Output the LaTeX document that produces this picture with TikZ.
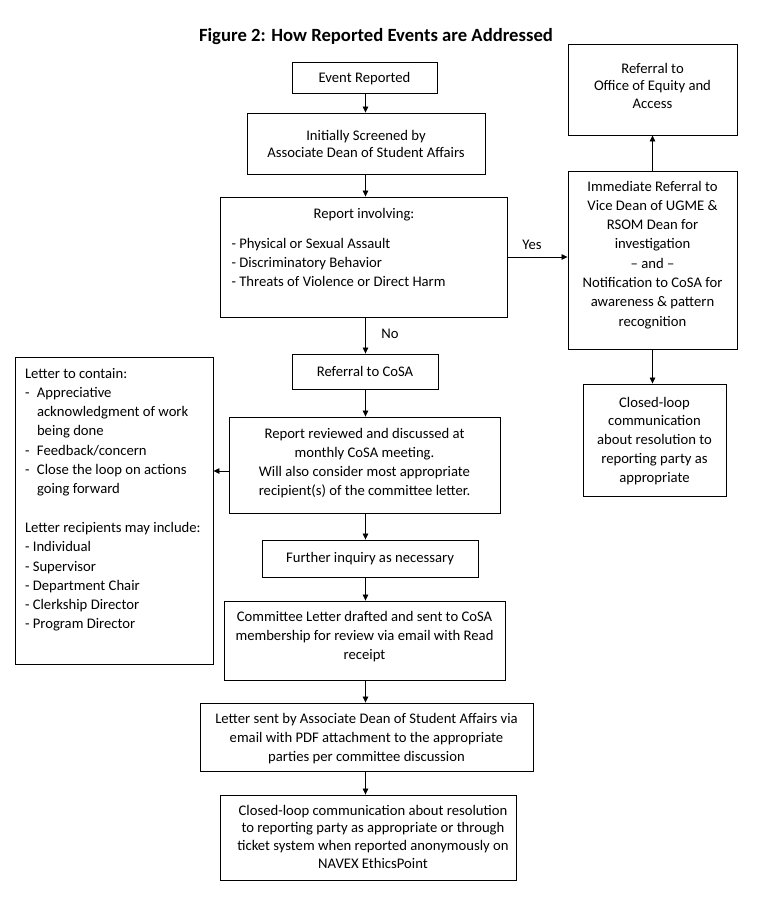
\documentclass[tikz,border=0pt]{standalone}
\usepackage{fontspec}
\setmainfont{Carlito}
\usetikzlibrary{arrows.meta}

% box text: width, height, first baseline, lines
\newcommand{\boxtext}[4]{\parbox[c][#2pt][t]{#1pt}{\centering\rule{0pt}{#3pt}#4}}
\newcommand{\litem}[1]{\hangindent=12pt\hangafter=1\makebox[12pt][l]{-}#1\par}

\tikzset{
    box/.style={draw,line width=0.9pt,inner sep=0pt},
    arr/.style={-{Triangle[length=6pt,width=5.5pt]},line width=0.7pt},
    lbl/.style={inner sep=0pt},
}

\begin{document}
\begin{tikzpicture}[x=1pt,y=-1pt,font=\fontsize{14.67}{19.3}\selectfont]
        \useasboundingbox (0,0) rectangle (764,906);
        %title
        \node[lbl,font=\fontsize{18.67}{22}\selectfont\bfseries] (title) at (376,37) {Figure 2: How Reported Events are Addressed};
        
        %main column
        \node[box] (event) at (364.5,77.5) {\boxtext{145}{31}{20}{Event Reported}};
        \node[box] (screen) at (366,143.5) {\boxtext{238}{61}{27}{\fontsize{14.67}{17.9}\selectfont Initially Screened by\\ Associate Dean of Student Affairs}};
        \node[box,inner xsep=11pt] (report) at (364,257) {\parbox[c][120pt][t]{265pt}{\centering\rule{0pt}{21pt}Report involving:\par
                \vspace{10.7pt}\raggedright - Physical or Sexual Assault\\ - Discriminatory Behavior\\ - Threats of Violence or Direct Harm}};
        \node[box] (cosa) at (365,371.5) {\boxtext{146}{35}{22}{Referral to CoSA}};
        \node[box] (review) at (364.5,465) {\boxtext{271}{96}{21}{\fontsize{14.67}{19}\selectfont Report reviewed and discussed at\\ monthly CoSA meeting.\\ Will also consider most appropriate\\ recipient(s) of the committee letter.}};
        \node[box] (inquiry) at (370,558.5) {\boxtext{216}{37}{22}{Further inquiry as necessary}};
        \node[box] (committee) at (364.5,640.5) {\boxtext{281}{79}{20}{Committee Letter drafted and sent to CoSA\\ membership for review via email with Read\\ receipt}};
        \node[box] (letter) at (366.5,737) {\boxtext{333}{68}{20}{\fontsize{14.67}{19}\selectfont Letter sent by Associate Dean of Student Affairs via\\ email with PDF attachment to the appropriate\\ parties per committee discussion}};
        \node[box] (closed) at (368,837.5) {\boxtext{296}{85}{20}{\fontsize{14.67}{17.8}\selectfont\leftskip=10pt plus 1fil Closed-loop communication about resolution\\ to reporting party as appropriate or through\\ ticket system when reported anonymously on\\ NAVEX EthicsPoint}};
        
        %letter box
        \node[box,inner xsep=10pt] (left) at (114,510.5) {\parbox[c][307pt][t]{178pt}{\raggedright\rule{0pt}{21pt}Letter to contain:\par
                \litem{Appreciative\newline acknowledgment of work\newline being done}
                \litem{Feedback/concern}
                \litem{Close the loop on actions\newline going forward}
                \vspace{19.3pt}
                Letter recipients may include:\\ - Individual\\ - Supervisor\\ - Department Chair\\ - Clerkship Director\\ - Program Director}};
        
        %right column
        \node[box] (office) at (652.5,89.5) {\boxtext{169}{91}{29}{\fontsize{14.67}{17.6}\selectfont Referral to\\ Office of Equity and\\ Access}};
        \node[box] (immediate) at (652.5,260) {\boxtext{169}{178}{20}{Immediate Referral to\\ Vice Dean of UGME \&\\ RSOM Dean for\\ investigation\\ -- and --\\ Notification to CoSA for\\ awareness \& pattern\\ recognition}};
        \node[box] (loopr) at (654.5,440) {\boxtext{143}{112}{23}{\fontsize{14.67}{18.8}\selectfont Closed-loop\\ communication\\ about resolution to\\ reporting party as\\ appropriate}};
        
        %arrows
        \coordinate (spine) at (365.5,0);
        \coordinate (lettery) at (0,471);
        \draw[arr] (event.south -| spine) -- (screen.north -| spine);
        \draw[arr] (screen.south -| spine) -- (report.north -| spine);
        \draw[arr] (report.south -| spine) -- (cosa.north -| spine);
        \draw[arr] (cosa.south -| spine) -- (review.north -| spine);
        \draw[arr] (review.south -| spine) -- (inquiry.north -| spine);
        \draw[arr] (inquiry.south -| spine) -- (committee.north -| spine);
        \draw[arr] (committee.south -| spine) -- (letter.north -| spine);
        \draw[arr] (letter.south -| spine) -- (closed.north -| spine);
        \draw[arr] (review.west |- lettery) -- (left.east |- lettery);
        \draw[arr] (report.east) -- (report.east -| immediate.west);
        \draw[arr] (immediate.north) -- (office.south);
        \draw[arr] (immediate.south) -- (immediate.south |- loopr.north);
        
        \node[lbl] (no) at (390,334) {No};
        \node[lbl] (yes) at (532,245) {Yes};
        
\end{tikzpicture}
\end{document}
